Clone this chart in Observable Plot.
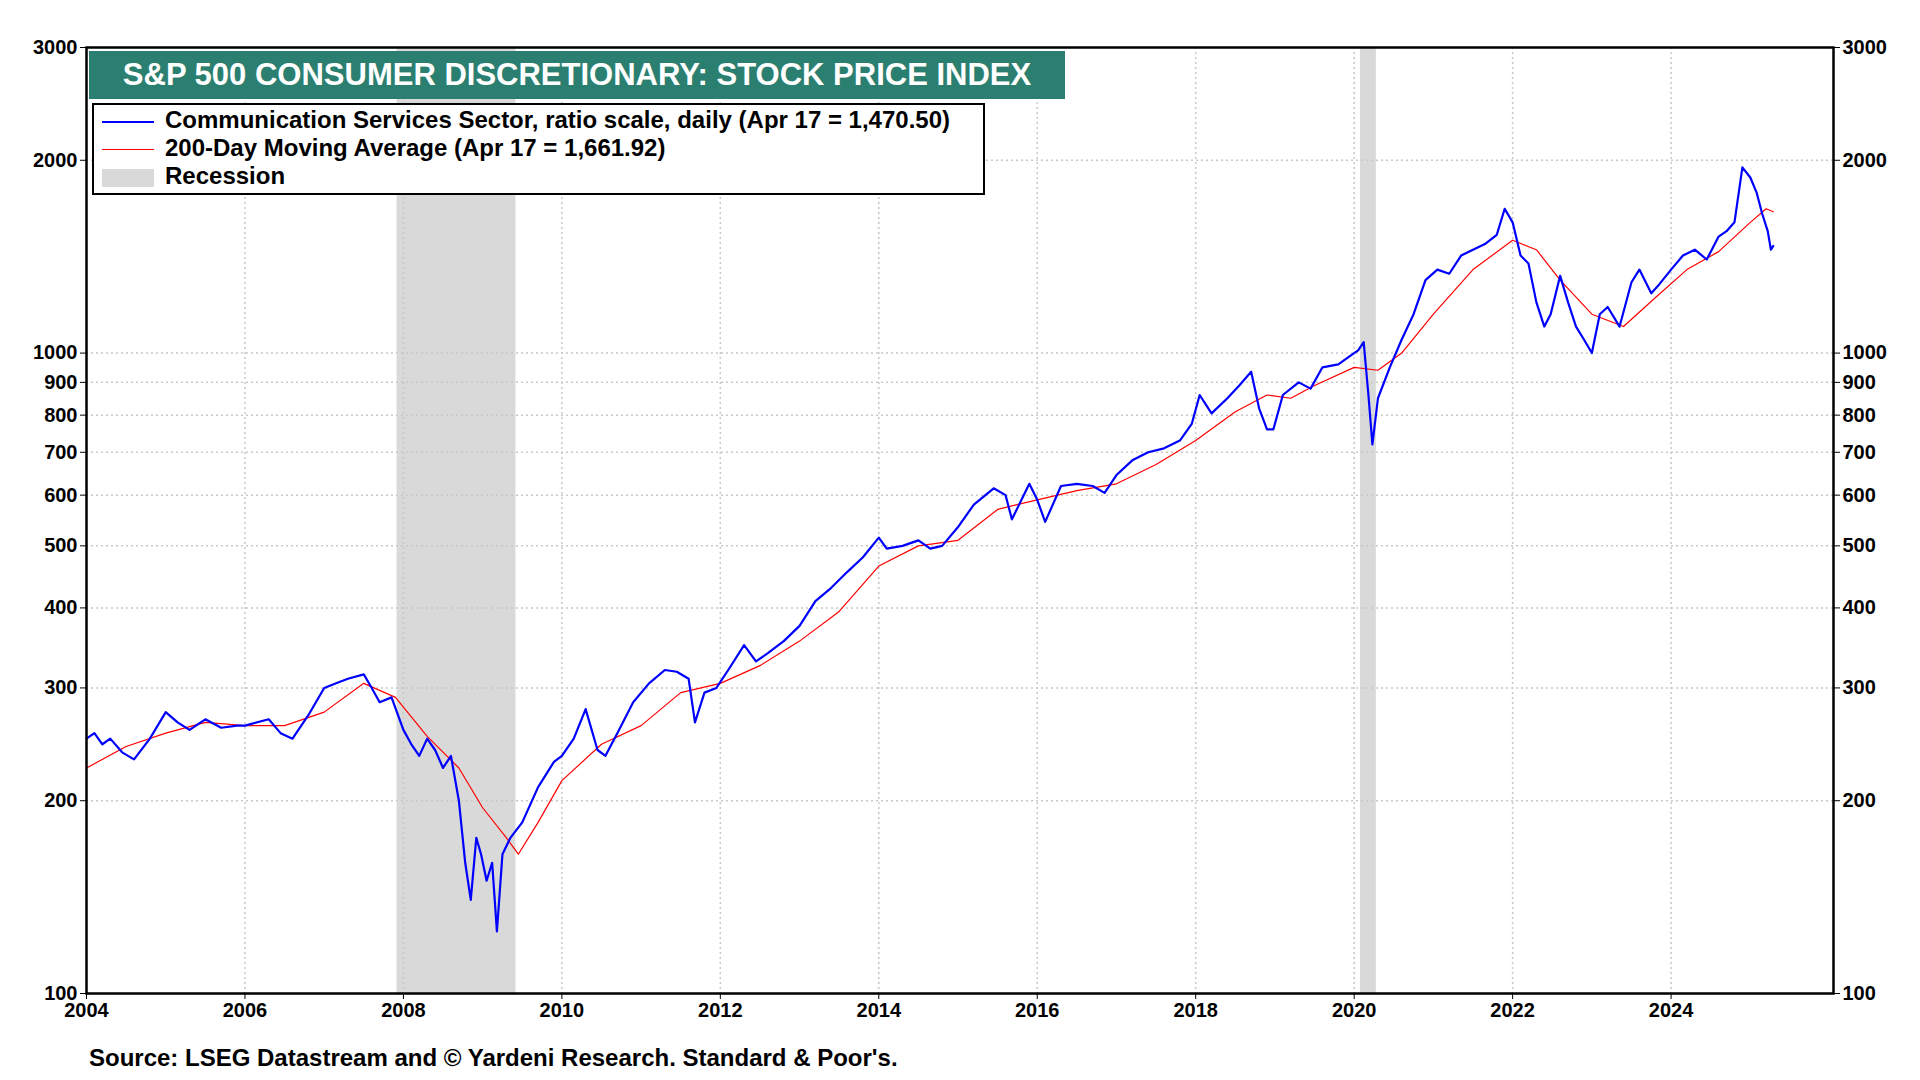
<!DOCTYPE html>
<html><head><meta charset="utf-8">
<script src="https://cdn.jsdelivr.net/npm/d3@7"></script>
<script src="https://cdn.jsdelivr.net/npm/@observablehq/plot@0.6"></script>
<style>
body{margin:0;background:#fff;font-family:"Liberation Sans",Arial,sans-serif;}
#wrap{position:relative;width:1920px;height:1080px;}
#title{position:absolute;left:89px;top:51px;width:976px;height:48px;background:#2b7f70;color:#fff;font-weight:bold;font-size:31px;line-height:48px;text-align:center;}
#legend{position:absolute;left:92px;top:103px;width:889px;height:88px;border:2px solid #000;background:#fff;font-weight:bold;font-size:24px;}
.row{position:absolute;left:8px;height:27px;line-height:27px;}
.sw{display:inline-block;width:52px;vertical-align:middle;margin-right:11px;}
#source{position:absolute;left:89px;top:1044px;font-weight:bold;font-size:24px;}
</style></head><body>
<div id="wrap">
<div id="chart"></div>
<div id="title">S&amp;P 500 CONSUMER DISCRETIONARY: STOCK PRICE INDEX</div>
<div id="legend">
<div class="row" style="top:1px"><span class="sw" style="border-top:2px solid #0000ff"></span>Communication Services Sector, ratio scale, daily (Apr 17 = 1,470.50)</div>
<div class="row" style="top:29px"><span class="sw" style="border-top:1px solid #ff0000"></span>200-Day Moving Average (Apr 17 = 1,661.92)</div>
<div class="row" style="top:57px"><span class="sw" style="height:18px;background:#d9d9d9"></span>Recession</div>
</div>
<div id="source">Source: LSEG Datastream and © Yardeni Research. Standard &amp; Poor's.</div>
</div>
<script>
const priceT=[2004.0,2004.1,2004.2,2004.3,2004.45,2004.6,2004.8,2005.0,2005.15,2005.3,2005.5,2005.7,2005.9,2006.0,2006.3,2006.45,2006.6,2006.8,2007.0,2007.15,2007.3,2007.5,2007.6,2007.7,2007.85,2008.0,2008.1,2008.2,2008.3,2008.4,2008.5,2008.6,2008.7,2008.78,2008.85,2008.92,2008.98,2009.05,2009.12,2009.18,2009.25,2009.35,2009.5,2009.7,2009.9,2010.0,2010.15,2010.3,2010.45,2010.55,2010.7,2010.9,2011.1,2011.3,2011.45,2011.6,2011.68,2011.8,2011.95,2012.1,2012.3,2012.45,2012.6,2012.8,2013.0,2013.2,2013.4,2013.6,2013.8,2014.0,2014.1,2014.3,2014.5,2014.65,2014.8,2015.0,2015.2,2015.45,2015.6,2015.68,2015.9,2016.0,2016.1,2016.3,2016.5,2016.7,2016.85,2017.0,2017.2,2017.4,2017.6,2017.8,2017.95,2018.05,2018.2,2018.4,2018.55,2018.7,2018.8,2018.9,2018.98,2019.1,2019.3,2019.45,2019.6,2019.8,2019.95,2020.05,2020.12,2020.18,2020.23,2020.3,2020.45,2020.6,2020.75,2020.9,2021.05,2021.2,2021.35,2021.5,2021.65,2021.8,2021.9,2022.0,2022.1,2022.2,2022.3,2022.4,2022.48,2022.6,2022.7,2022.8,2022.9,2023.0,2023.1,2023.2,2023.35,2023.5,2023.6,2023.75,2023.85,2024.0,2024.15,2024.3,2024.45,2024.6,2024.7,2024.8,2024.9,2025.0,2025.08,2025.15,2025.22,2025.26,2025.29];
const priceV=[250,255,245,250,238,232,250,275,265,258,268,260,262,262,268,255,250,272,300,305,310,315,300,285,290,258,245,235,250,240,225,235,200,160,140,175,165,150,160,125,165,175,185,210,230,235,250,278,240,235,255,285,305,320,318,310,265,295,300,320,350,330,340,355,375,410,430,455,480,515,495,500,510,495,500,535,580,615,600,550,625,590,545,620,625,620,605,645,680,700,710,730,775,860,805,850,890,935,820,760,760,860,900,880,950,960,990,1010,1040,860,720,850,950,1050,1150,1300,1350,1330,1420,1450,1480,1530,1680,1600,1420,1380,1200,1100,1150,1320,1200,1100,1050,1000,1150,1180,1100,1290,1350,1240,1280,1350,1420,1450,1400,1520,1550,1600,1950,1880,1780,1650,1550,1450,1470];
const maT=[2004.0,2004.5,2005.0,2005.5,2006.0,2006.5,2007.0,2007.5,2007.9,2008.3,2008.7,2009.0,2009.3,2009.45,2009.7,2010.0,2010.5,2011.0,2011.5,2012.0,2012.5,2013.0,2013.5,2014.0,2014.5,2015.0,2015.5,2016.0,2016.5,2017.0,2017.5,2018.0,2018.5,2018.9,2019.2,2019.5,2020.0,2020.3,2020.6,2021.0,2021.5,2022.0,2022.3,2022.6,2023.0,2023.4,2023.8,2024.2,2024.6,2025.0,2025.2,2025.29];
const maV=[225,243,255,265,262,262,275,305,290,252,225,195,175,165,185,215,245,262,295,305,325,355,395,465,500,510,570,590,610,625,670,730,810,860,850,890,950,940,1000,1150,1350,1500,1450,1300,1150,1100,1220,1350,1440,1600,1680,1662];
const recessions=[[2007.92,2009.42],[2020.08,2020.28]];
const yTicks=[100,200,300,400,500,600,700,800,900,1000,2000,3000];
const xTicks=[2004,2006,2008,2010,2012,2014,2016,2018,2020,2022,2024];

const price=priceT.map((t,i)=>({t,v:priceV[i]}));
const ma=maT.map((t,i)=>({t,v:maV[i]}));
const rec=recessions.map(([a,b])=>({a,b}));
const grid={stroke:"#c8c8c8",strokeOpacity:1,strokeDasharray:"2,3",strokeWidth:1.5};
const chart=Plot.plot({
  width:1920,height:1080,marginLeft:86,marginRight:87,marginTop:47,marginBottom:87,
  style:{fontFamily:"Liberation Sans, Arial, sans-serif",fontWeight:"bold",fontSize:"20px",color:"#000"},
  x:{domain:[2004,2026.05],ticks:xTicks,tickFormat:d3.format("d")},
  y:{type:"log",domain:[100,3000],ticks:yTicks,tickFormat:d=>String(d)},
  marks:[
    Plot.rectY(rec,{x1:"a",x2:"b",y1:100,y2:3000,fill:"#d9d9d9"}),
    Plot.gridX(xTicks.slice(1),{...grid}),
    Plot.gridY(yTicks.slice(1,-1),{...grid}),
    Plot.line(ma,{x:"t",y:"v",stroke:"#ff0000",strokeWidth:1.2}),
    Plot.line(price,{x:"t",y:"v",stroke:"#0000ff",strokeWidth:2.2}),
    Plot.axisY(yTicks,{anchor:"left",label:null,tickSize:6,tickFormat:d=>String(d),fontSize:20}),
    Plot.axisY(yTicks,{anchor:"right",label:null,tickSize:6,tickFormat:d=>String(d),fontSize:20}),
    Plot.axisX(xTicks,{label:null,tickSize:6,tickFormat:d3.format("d"),fontSize:20}),
    Plot.frame({stroke:"#000",strokeWidth:2.5})
  ]
});
document.getElementById("chart").appendChild(chart);
</script>
</body></html>
